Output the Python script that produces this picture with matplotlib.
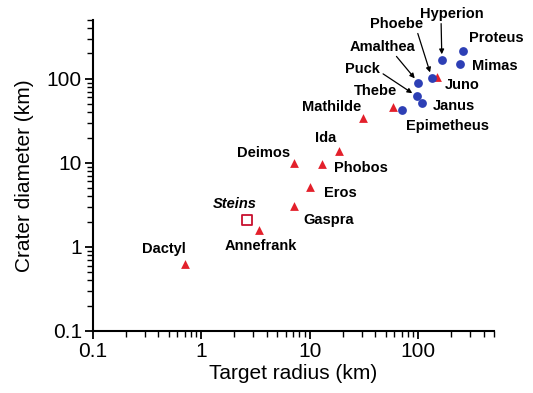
import numpy as np
import matplotlib
matplotlib.use("Agg")
import matplotlib.pyplot as plt

plt.rcParams['font.family'] = ['Liberation Sans', 'DejaVu Sans']

# Target radius (km) and crater diameter (km)
tri_names = ['Dactyl', 'Annefrank', 'Gaspra', 'Eros', 'Deimos', 'Phobos', 'Ida',
             'Mathilde', 'Thebe', 'Juno']
tri_r = [0.7, 3.4, 7.2, 10.0, 7.2, 13.0, 18.5, 31.0, 59.0, 148.0]
tri_d = [0.62, 1.6, 3.1, 5.2, 10.0, 9.6, 14.0, 34.0, 46.0, 105.0]

circ_names = ['Epimetheus', 'Janus', 'Puck', 'Amalthea', 'Phoebe', 'Hyperion',
              'Mimas', 'Proteus']
circ_r = [70.0, 108.0, 97.0, 100.0, 133.0, 165.0, 245.0, 258.0]
circ_d = [42.0, 52.0, 62.0, 90.0, 103.0, 168.0, 150.0, 215.0]

steins_r = [2.65]
steins_d = [2.1]

# label offsets in pixels (dx, dy)
offsets = {
    'Dactyl': (-21, 15), 'Annefrank': (2, -16), 'Gaspra': (34, -14),
    'Eros': (31, -6), 'Deimos': (-31, 10), 'Phobos': (39, -4), 'Ida': (-13, 13),
    'Mathilde': (-32, 11), 'Thebe': (-18, 16), 'Juno': (25, -8),
    'Epimetheus': (46, -16), 'Janus': (32, -3), 'Mimas': (34, -2),
    'Proteus': (33, 13), 'Hyperion': (10, 46), 'Phoebe': (-35, 54),
    'Amalthea': (-36, 36), 'Puck': (-54, 27), 'Steins': (-13, 16),
}
# where the arrow leaves the label box
arrow_start = {'Hyperion': (0.33, 0.0), 'Phoebe': (0.88, 0.0),
               'Amalthea': (0.68, 0.0), 'Puck': (1.0, 0.3)}

fig = plt.figure(figsize=(5.33, 3.93), dpi=100)
ax = fig.add_axes([0.1745, 0.158, 0.7525, 0.791])

ax.scatter(tri_r, tri_d, marker='^', s=40, color='#e3202b', linewidths=0, zorder=3)
ax.scatter(circ_r, circ_d, marker='o', s=40, color='#2d3fb5', linewidths=0, zorder=3)
ax.scatter(steins_r, steins_d, marker='s', s=45, facecolor='white',
           edgecolor='#c8102e', linewidths=1.3, zorder=3)

ax.set_xscale('log')
ax.set_yscale('log')
ax.set_xlim(0.1, 500)
ax.set_ylim(0.1, 500)

def label(name, x, y, style='normal'):
    dx, dy = offsets[name]
    if name in arrow_start:
        ax.annotate(name, (x, y), xytext=(dx, dy), textcoords='offset pixels',
                    ha='center', va='center', fontsize=10.5, fontweight='bold',
                    arrowprops=dict(arrowstyle='-|>', color='black', lw=0.9,
                                    mutation_scale=7, shrinkA=0, shrinkB=4,
                                    relpos=arrow_start[name]))
    else:
        ax.annotate(name, (x, y), xytext=(dx, dy), textcoords='offset pixels',
                    ha='center', va='center', fontsize=10.5, fontweight='bold',
                    style=style)

for n, x, y in zip(tri_names, tri_r, tri_d):
    label(n, x, y)
for n, x, y in zip(circ_names, circ_r, circ_d):
    label(n, x, y)
label('Steins', steins_r[0], steins_d[0], style='italic')

ax.set_xticks([0.1, 1, 10, 100])
ax.set_xticklabels(['0.1', '1', '10', '100'])
ax.set_yticks([0.1, 1, 10, 100])
ax.set_yticklabels(['0.1', '1', '10', '100'])
ax.set_xlabel('Target radius (km)', fontsize=15, labelpad=2)
ax.set_ylabel('Crater diameter (km)', fontsize=15, labelpad=9)

for s in ['top', 'right']:
    ax.spines[s].set_visible(False)
for s in ['left', 'bottom']:
    ax.spines[s].set_linewidth(1.5)
ax.tick_params(which='major', direction='out', length=6, width=1.3, labelsize=15, pad=2)
ax.tick_params(which='minor', direction='out', length=4, width=1.0)

fig.savefig('out.png', dpi=100)
